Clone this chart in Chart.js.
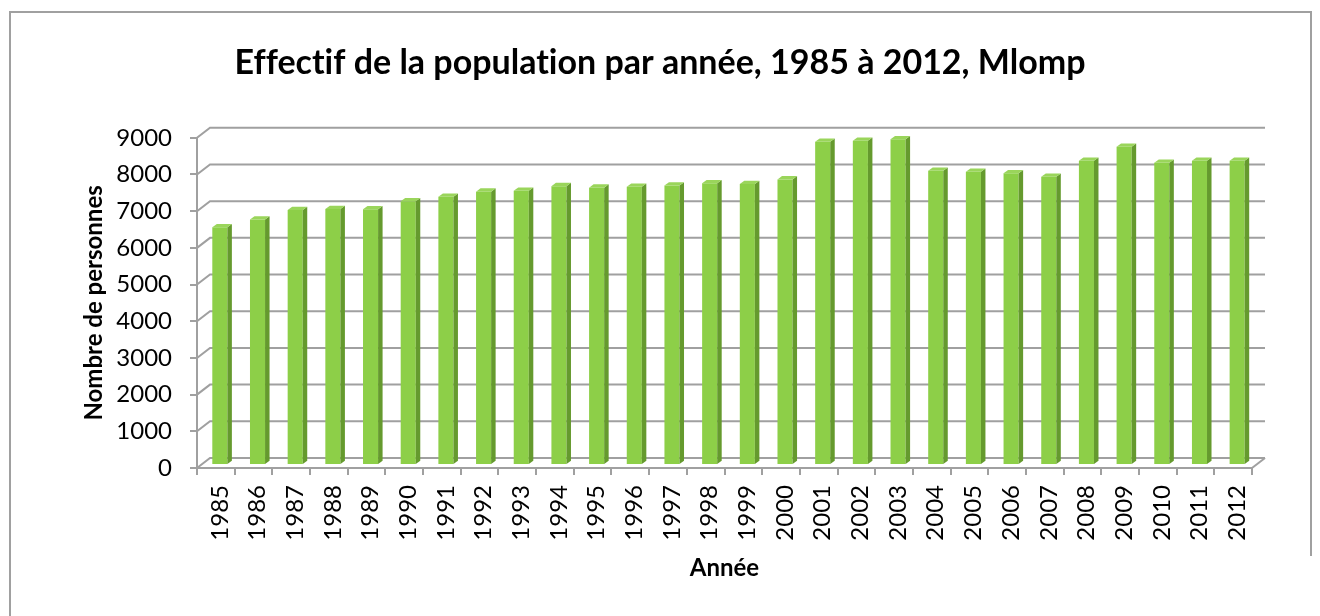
<!DOCTYPE html>
<html><head><meta charset="utf-8">
<script src="https://cdn.jsdelivr.net/npm/chart.js"></script>
<style>html,body{margin:0;padding:0;background:#fff}#wrap{width:1320px;height:616px}</style>
</head><body><div id="wrap"><canvas id="c" width="1320" height="616"></canvas></div>
<script>
const years = ['1985','1986','1987','1988','1989','1990','1991','1992','1993','1994','1995','1996','1997','1998','1999','2000','2001','2002','2003','2004','2005','2006','2007','2008','2009','2010','2011','2012'];
const population = [6480, 6690, 6950, 6975, 6970, 7190, 7310, 7450, 7475, 7600, 7560, 7585, 7620, 7680, 7660, 7785, 8810, 8835, 8880, 8020, 7990, 7950, 7855, 8290, 8675, 8240, 8290, 8290];
const yTicks = [0, 1000, 2000, 3000, 4000, 5000, 6000, 7000, 8000, 9000];
const chartTitle = 'Effectif de la population par année, 1985 à 2012, Mlomp';
const xTitle = 'Année';
const yTitle = 'Nombre de personnes';

const GRID = '#a0a0a0';
const WALL = {dx: 13, dy: 10};
const BAR_SHIFT = {dx: 4, dy: 3};
const BAR_DEPTH = {dx: 4.5, dy: 3.3};

const frame3d = {
  id: 'frame3d',
  beforeInit(chart) {
    try { chart.ctx.textRendering = 'optimizeSpeed'; } catch (e) {}
  },
  beforeDraw(chart) {
    const ctx = chart.ctx;
    try { ctx.textRendering = 'optimizeSpeed'; } catch (e) {}
    ctx.save();
    ctx.fillStyle = '#fff';
    ctx.fillRect(0, 0, chart.width, chart.height);
    ctx.strokeStyle = GRID; ctx.lineWidth = 2;
    ctx.beginPath();
    ctx.moveTo(10, 616); ctx.lineTo(10, 12); ctx.lineTo(1311, 12); ctx.lineTo(1311, 556);
    ctx.stroke();
    ctx.restore();
  },
  beforeDatasetsDraw(chart) {
    const {ctx, chartArea: {left, right, bottom}, scales: {y}} = chart;
    ctx.save();
    ctx.strokeStyle = GRID; ctx.lineWidth = 2;
    y.ticks.forEach(t => {
      const py = y.getPixelForValue(t.value);
      ctx.beginPath();
      ctx.moveTo(left, py);
      ctx.lineTo(left + WALL.dx, py - WALL.dy);
      ctx.lineTo(right + WALL.dx, py - WALL.dy);
      ctx.stroke();
    });
    ctx.beginPath();
    ctx.moveTo(right, bottom); ctx.lineTo(right + WALL.dx, bottom - WALL.dy);
    ctx.stroke();
    ctx.restore();
    ctx.save();
    ctx.translate(BAR_SHIFT.dx, -BAR_SHIFT.dy);
  },
  afterDatasetsDraw(chart) {
    const ctx = chart.ctx;
    chart.getDatasetMeta(0).data.forEach(bar => {
      const {x, y, base, width} = bar.getProps(['x', 'y', 'base', 'width'], true);
      const x1 = x - width / 2, x2 = x + width / 2;
      ctx.fillStyle = '#659a2e';
      ctx.beginPath();
      ctx.moveTo(x2, y); ctx.lineTo(x2 + BAR_DEPTH.dx, y - BAR_DEPTH.dy);
      ctx.lineTo(x2 + BAR_DEPTH.dx, base - BAR_DEPTH.dy); ctx.lineTo(x2, base);
      ctx.closePath(); ctx.fill();
      ctx.fillStyle = '#9ad55b';
      ctx.beginPath();
      ctx.moveTo(x1, y); ctx.lineTo(x1 + BAR_DEPTH.dx, y - BAR_DEPTH.dy);
      ctx.lineTo(x2 + BAR_DEPTH.dx, y - BAR_DEPTH.dy); ctx.lineTo(x2, y);
      ctx.closePath(); ctx.fill();
    });
    ctx.restore();
  }
};

const tickFont = {family: 'Lato', size: 24};

new Chart(document.getElementById('c'), {
  type: 'bar',
  data: {
    labels: years,
    datasets: [{
      data: population,
      backgroundColor: '#8dcf48',
      borderWidth: 0,
      barPercentage: 0.4,
      categoryPercentage: 1.0,
      clip: false
    }]
  },
  options: {
    responsive: false,
    animation: false,
    layout: {padding: {left: 0, right: 0, top: 0, bottom: 0}},
    plugins: {
      legend: {display: false},
      tooltip: {enabled: false},
      title: {
        display: true, text: chartTitle, color: '#000',
        font: {family: 'Lato', size: 34, weight: 'bold'},
        padding: {top: 43, bottom: 54}
      }
    },
    scales: {
      x: {
        grid: {display: true, drawOnChartArea: false, drawTicks: true, tickLength: 7, color: GRID, lineWidth: 2, offset: true},
        border: {display: true, color: GRID, width: 2},
        ticks: {font: tickFont, color: '#000', minRotation: 90, maxRotation: 90, padding: 10, labelOffset: 4, autoSkip: false},
        title: {display: true, text: xTitle, color: '#000', font: {family: 'Lato', size: 24, weight: 'bold'}, padding: {top: 0, bottom: 33}},
        afterFit(s) { s.height = 148; }
      },
      y: {
        min: 0, max: 9000,
        afterBuildTicks(s) { s.ticks = yTicks.map(v => ({value: v})); },
        grid: {display: true, drawOnChartArea: false, drawTicks: true, tickLength: 7, color: GRID, lineWidth: 2},
        border: {display: true, color: GRID, width: 2},
        ticks: {font: tickFont, color: '#000', padding: 18, callback: v => String(v)},
        title: {display: true, text: yTitle, color: '#000', font: {family: 'Lato', size: 24, weight: 'bold'}, padding: {top: 80, bottom: 0}},
        afterFit(s) { s.width = 197; }
      },
      rightSpace: {
        type: 'linear', position: 'right', display: true,
        grid: {display: false}, border: {display: false}, ticks: {display: false},
        afterFit(s) { s.width = 68; }
      }
    }
  },
  plugins: [frame3d]
});
</script>
</body></html>
